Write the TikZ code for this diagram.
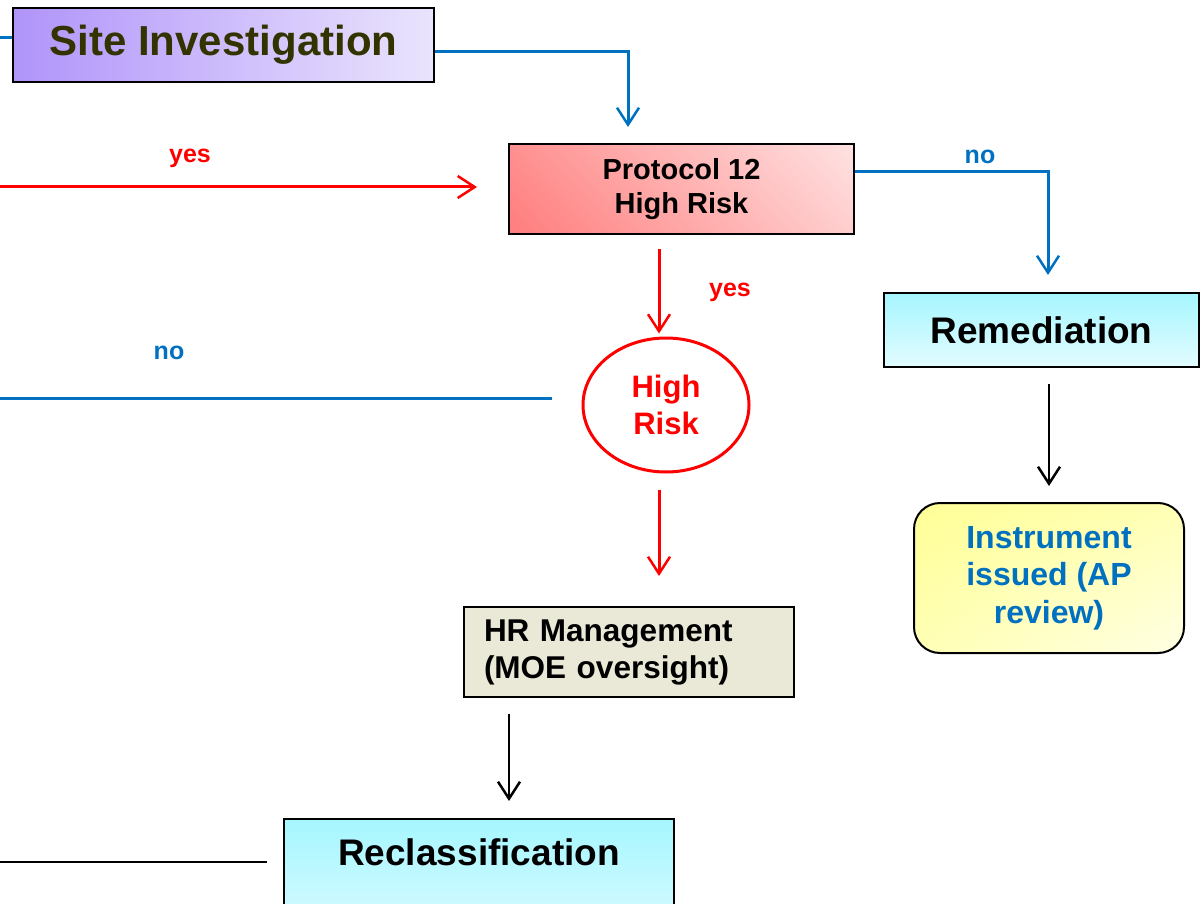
\documentclass[tikz,border=0pt]{standalone}
\usepackage{fontspec}
\setmainfont{Liberation Sans}
\usetikzlibrary{arrows.meta,shapes.geometric,shadings}
\definecolor{sitel}{RGB}{176,148,250}
\definecolor{siter}{RGB}{234,228,253}
\definecolor{sitetext}{RGB}{51,51,0}
\definecolor{pinkl}{RGB}{255,124,124}
\definecolor{pinkr}{RGB}{255,226,226}
\definecolor{cyantop}{RGB}{166,246,255}
\definecolor{cyanbot}{RGB}{226,252,255}
\definecolor{yelhi}{RGB}{255,255,150}
\definecolor{yello}{RGB}{255,255,228}
\definecolor{hrfill}{RGB}{234,232,214}
\definecolor{flowblue}{RGB}{0,112,192}
\definecolor{flowred}{RGB}{255,0,0}
\newcommand{\fsz}[1]{\fontsize{#1}{1.2\dimexpr#1pt\relax}\selectfont}

\begin{document}
\begin{tikzpicture}[x=1pt,y=-1pt]
\tikzset{box/.style={draw=black,line width=2pt,inner sep=0pt,align=center,font=\bfseries}}
\tikzset{cyanbox/.style={box,top color=cyantop,bottom color=cyanbot}}
\tikzset{yesno/.style={font=\bfseries\fsz{25}}}
\tikzset{tip/.style={-{Straight Barb[length=17pt,width=22pt,line width=2.5pt]}}}
\tikzset{blueline/.style={draw=flowblue,line width=3pt}}
\tikzset{redline/.style={draw=flowred,line width=3pt}}
\tikzset{blackline/.style={draw=black,line width=2.6pt}}

\useasboundingbox (0,0) rectangle (1202,904);

\node[box,left color=sitel,right color=siter,minimum width=421,minimum height=74,
  text=sitetext,font=\bfseries\fsz{42}] (site) at (223.5,45) {Site Investigation};
\node[box,upper left=pinkl!80!pinkr,lower left=pinkl,upper right=pinkr,lower right=pinkr!80!pinkl,
  minimum width=345,minimum height=90,font=\bfseries\fontsize{29}{34}\selectfont] (p12) at (681.5,189) {Protocol 12\\High Risk};
\node[ellipse,draw=flowred,line width=3pt,minimum width=166,minimum height=134,inner sep=0pt,
  align=center,text=flowred,font=\bfseries\fontsize{31}{37}\selectfont] (hrisk) at (666,405) {High\\Risk};
\node[cyanbox,minimum width=315,minimum height=74,font=\bfseries\fsz{37}] (remed) at (1041.5,330) {Remediation};
\node[box,rounded corners=26pt,upper left=yelhi,lower left=yelhi!60!yello,upper right=yelhi!60!yello,lower right=yello,
  minimum width=270,minimum height=150,text=flowblue,font=\bfseries\fontsize{32}{37.5}\selectfont] (instr) at (1049,578) {Instrument\\issued (AP\\review)};
\node[box,fill=hrfill,text width=290,inner xsep=20pt,minimum height=90,align=left,
  font=\bfseries\fontsize{31.5}{37}\selectfont] (hrm) at (629,652) {HR Management\\(MOE oversight)};
\node[cyanbox,anchor=north,minimum width=390,text height=46pt,text depth=90pt,
  font=\bfseries\fsz{37}] (recl) at (479,818) {Reclassification};

\coordinate (sitein) at (0,38);
\coordinate (sitetop) at (628,127);
\coordinate (yesin) at (0,187);
\coordinate (noin) at (0,398);
\coordinate (remtop) at (1048,275);
\coordinate (redcol) at (659,0);
\coordinate (hrcol) at (509,0);
\coordinate (reclin) at (0,862);

\draw[blueline] (sitein) -- (sitein -| site.west);
\draw[blueline,tip] ([yshift=-7pt]site.east) -| (sitetop);
\draw[redline,tip,shorten >=31pt] (yesin) -- (yesin -| p12.west);
\draw[blueline,tip] ([yshift=17pt]p12.east) -| (remtop);
\draw[redline,tip,shorten <=14pt,shorten >=3pt] (p12.south -| redcol) -- (hrisk.north -| redcol);
\draw[redline,tip,shorten <=16pt,shorten >=30pt] (hrisk.south -| redcol) -- (hrm.north -| redcol);
\draw[blueline,shorten >=30pt] (noin) -- (noin -| hrisk.west);
\draw[blackline,tip,shorten <=16pt,shorten >=16pt] (remed.south -| instr) -- (instr.north);
\draw[blackline,tip,shorten <=16pt,shorten >=17pt] (hrm.south -| hrcol) -- (recl.north -| hrcol);
\draw[blackline,shorten >=16pt] (reclin) -- (reclin -| recl.west);

\node[yesno,text=flowred] (yes1) at (190,158) {yes};
\node[yesno,text=flowred] (yes2) at (730,292) {yes};
\node[yesno,text=flowblue] (no1) at (980,157) {no};
\node[yesno,text=flowblue] (no2) at (169,353) {no};

\end{tikzpicture}
\end{document}
